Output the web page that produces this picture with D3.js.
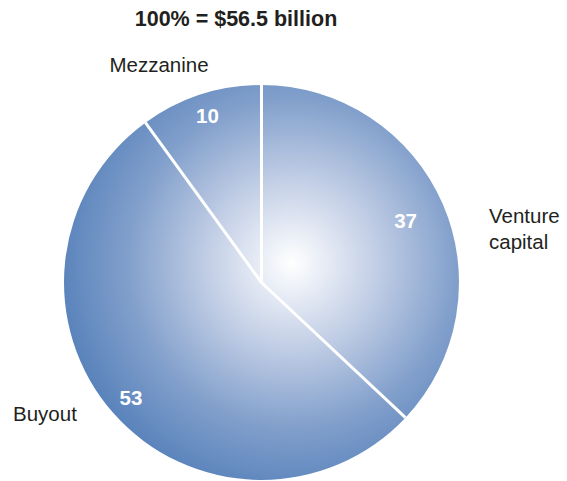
<!DOCTYPE html>
<html>
<head>
<meta charset="utf-8">
<script src="https://cdn.jsdelivr.net/npm/d3@7"></script>
<style>
  html, body { margin: 0; padding: 0; background: #ffffff; }
  svg { display: block; font-family: "Liberation Sans", Arial, Helvetica, sans-serif; }
</style>
</head>
<body>
<svg id="chart" width="567" height="481"></svg>
<script>
// Share of private-equity funds raised, by fund type (percent)
const categories = ["Venture capital", "Buyout", "Mezzanine"];
const shares = [37, 53, 10];
const totalLabel = "100% = $56.5 billion";

const width = 567, height = 481;
const cx = 261.5, cy = 282.5, radius = 197.5;

const svg = d3.select("#chart");

// Radial shading: bright spot slightly right of and above the centre
const defs = svg.append("defs");
const grad = defs.append("radialGradient")
  .attr("id", "pieShade")
  .attr("gradientUnits", "userSpaceOnUse")
  .attr("cx", 292 - cx).attr("cy", 263 - cy).attr("r", 236);
grad.append("stop").attr("offset", 0).attr("stop-color", "#ffffff");
grad.append("stop").attr("offset", 0.35).attr("stop-color", "#c3cfe6");
grad.append("stop").attr("offset", 0.7).attr("stop-color", "#819fcb");
grad.append("stop").attr("offset", 1).attr("stop-color", "#5882bb");

const data = categories.map((c, i) => ({ name: c, value: shares[i] }));

const pie = d3.pie().sort(null).value(d => d.value);
const arcs = pie(data);
const arc = d3.arc().innerRadius(0).outerRadius(radius);

const g = svg.append("g").attr("transform", `translate(${cx},${cy})`);

g.selectAll("path.slice")
  .data(arcs)
  .join("path")
  .attr("class", "slice")
  .attr("d", arc)
  .attr("fill", "url(#pieShade)");

// White separators from the centre to each slice boundary
g.selectAll("line.sep")
  .data(arcs)
  .join("line")
  .attr("class", "sep")
  .attr("x1", 0).attr("y1", 0)
  .attr("x2", d => radius * Math.sin(d.startAngle))
  .attr("y2", d => -radius * Math.cos(d.startAngle))
  .attr("stroke", "#ffffff")
  .attr("stroke-width", 3);

// Value labels inside slices
const labelRadius = [157, 174, 175];
g.selectAll("text.val")
  .data(arcs)
  .join("text")
  .attr("class", "val")
  .attr("x", (d, i) => labelRadius[i] * Math.sin((d.startAngle + d.endAngle) / 2))
  .attr("y", (d, i) => -labelRadius[i] * Math.cos((d.startAngle + d.endAngle) / 2))
  .attr("dy", "0.36em")
  .attr("text-anchor", "middle")
  .attr("fill", "#ffffff")
  .attr("font-weight", "bold")
  .attr("font-size", 20.5)
  .text(d => d.data.value);

// Category names outside the pie
const nameStyle = sel => sel.attr("fill", "#231f20").attr("font-size", 20.5);

svg.append("text").call(nameStyle)
  .attr("x", 489).attr("y", 223)
  .text(categories[0].split(" ")[0]);
svg.append("text").call(nameStyle)
  .attr("x", 489).attr("y", 249)
  .text(categories[0].split(" ")[1]);
svg.append("text").call(nameStyle)
  .attr("x", 13).attr("y", 421)
  .text(categories[1]);
svg.append("text").call(nameStyle)
  .attr("x", 159).attr("y", 72)
  .attr("text-anchor", "middle")
  .text(categories[2]);

// Total
svg.append("text")
  .attr("x", 236).attr("y", 25.5)
  .attr("text-anchor", "middle")
  .attr("font-weight", "bold")
  .attr("font-size", 21.5)
  .attr("fill", "#231f20")
  .text(totalLabel);
</script>
</body>
</html>
